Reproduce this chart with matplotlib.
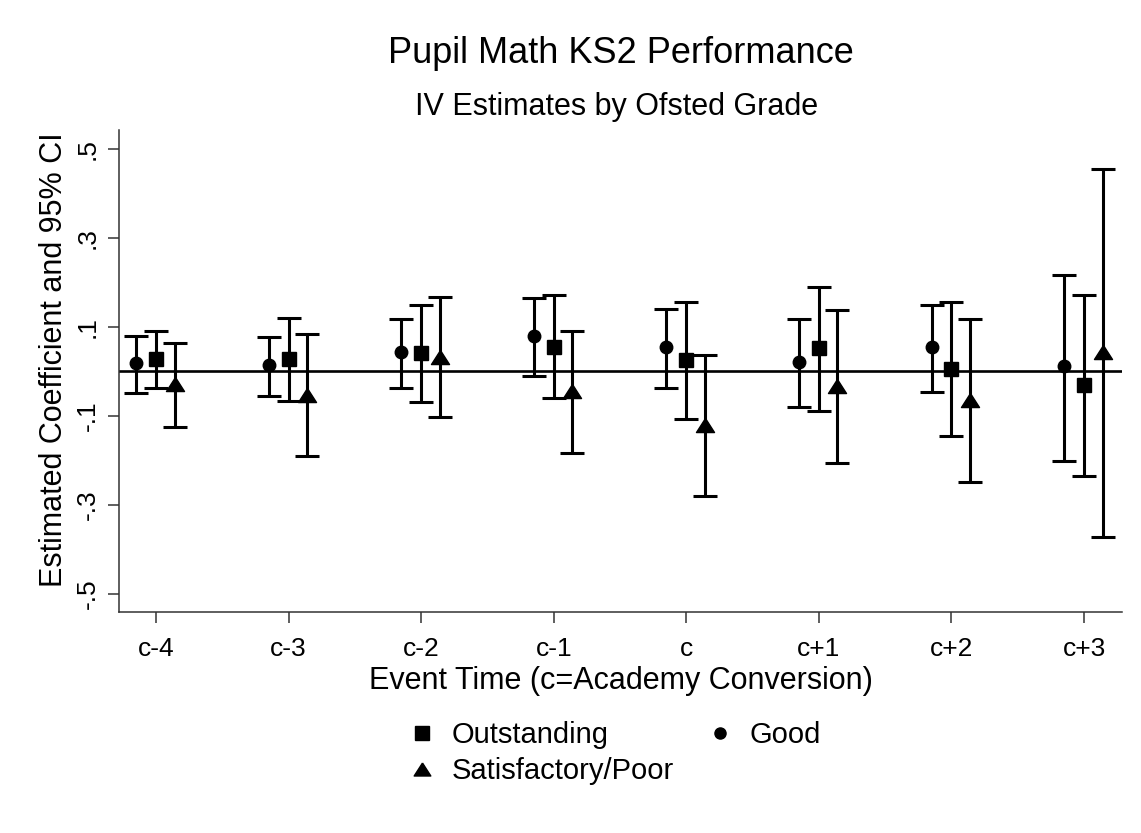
import numpy as np
import matplotlib.pyplot as plt
from matplotlib.lines import Line2D

plt.rcParams["font.family"] = ["Liberation Sans", "DejaVu Sans"]

# ── Data ─────────────────────────────────────────────────────────────────────
periods = ["c-4", "c-3", "c-2", "c-1", "c", "c+1", "c+2", "c+3"]

good_coef = [0.019, 0.014, 0.044, 0.080, 0.055, 0.022, 0.055, 0.012]
good_lo   = [-0.049, -0.055, -0.037, -0.010, -0.037, -0.080, -0.046, -0.201]
good_hi   = [0.080, 0.078, 0.118, 0.165, 0.140, 0.118, 0.150, 0.216]

out_coef  = [0.028, 0.028, 0.041, 0.056, 0.025, 0.052, 0.006, -0.031]
out_lo    = [-0.037, -0.066, -0.068, -0.060, -0.106, -0.088, -0.146, -0.234]
out_hi    = [0.092, 0.120, 0.149, 0.172, 0.157, 0.190, 0.157, 0.171]

sat_coef  = [-0.028, -0.054, 0.032, -0.045, -0.120, -0.032, -0.064, 0.043]
sat_lo    = [-0.124, -0.190, -0.103, -0.183, -0.280, -0.206, -0.249, -0.373]
sat_hi    = [0.063, 0.085, 0.168, 0.091, 0.037, 0.139, 0.117, 0.455]

y_ticks       = [-0.5, -0.3, -0.1, 0.1, 0.3, 0.5]
y_tick_labels = ["-.5", "-.3", "-.1", ".1", ".3", ".5"]

# Stata-style triangle: a bit wider than tall
tri = [(0, 0.78), (-1, -0.78), (1, -0.78), (0, 0.78)]

# ── Figure ───────────────────────────────────────────────────────────────────
fig = plt.figure(figsize=(11.41, 8.33), dpi=100)
ax = fig.add_axes([0.1043, 0.2653, 0.8791, 0.5786])

x = np.arange(1, len(periods) + 1)

series = [
    ("Good", good_coef, good_lo, good_hi, -0.15, "o", 9),
    ("Outstanding", out_coef, out_lo, out_hi, 0.0, "s", 10.5),
    ("Satisfactory/Poor", sat_coef, sat_lo, sat_hi, 0.14, tri, 13),
]

for name, coef, lo, hi, off, mk, ms in series:
    coef = np.array(coef)
    err = np.vstack([coef - np.array(lo), np.array(hi) - coef])
    ax.errorbar(x + off, coef, yerr=err, fmt="none", ecolor="black",
                elinewidth=2.2, capsize=8.5, capthick=2.2, zorder=3)
    ax.plot(x + off, coef, linestyle="none", marker=mk, markersize=ms,
            color="black", zorder=4, label=name)

ax.axhline(0, color="black", linewidth=1.9, zorder=2)

ax.set_xlim(0.721, 8.287)
ax.set_ylim(-0.541, 0.543)
ax.set_xticks(x)
ax.set_xticklabels(periods)
ax.set_yticks(y_ticks)
ax.set_yticklabels(y_tick_labels, rotation=90, va="center")

for side in ["top", "right"]:
    ax.spines[side].set_visible(False)
for side in ["left", "bottom"]:
    ax.spines[side].set_linewidth(1.1)
    ax.spines[side].set_color("#333333")

ax.tick_params(axis="both", length=8, width=1.1, color="#333333",
               labelsize=19, pad=6)
ax.tick_params(axis="x", pad=10)

ax.set_xlabel("Event Time (c=Academy Conversion)", fontsize=22)
ax.set_ylabel("Estimated Coefficient and 95% CI", fontsize=22)
ax.xaxis.set_label_coords(0.5, -0.112)
ax.yaxis.set_label_coords(-0.05, 0.523)

fig.text(0.5438, 0.9358, "Pupil Math KS2 Performance", ha="center", va="center",
         fontsize=26)
fig.text(0.5400, 0.871, "IV Estimates by Ofsted Grade", ha="center", va="center",
         fontsize=22)

leg_handles = [
    Line2D([], [], linestyle="none", marker="s", markersize=10.5, color="black"),
    Line2D([], [], linestyle="none", marker=tri, markersize=12, color="black"),
    Line2D([], [], linestyle="none", marker="o", markersize=8, color="black"),
]
leg_labels = ["Outstanding", "Satisfactory/Poor", "Good"]
fig.legend(leg_handles, leg_labels, ncol=2, loc="center",
           bbox_to_anchor=(0.5395, 0.096), frameon=False, fontsize=21,
           handlelength=0.8, handletextpad=0.6, columnspacing=1.2,
           labelspacing=0.28)

fig.savefig("out.png", dpi=100)
